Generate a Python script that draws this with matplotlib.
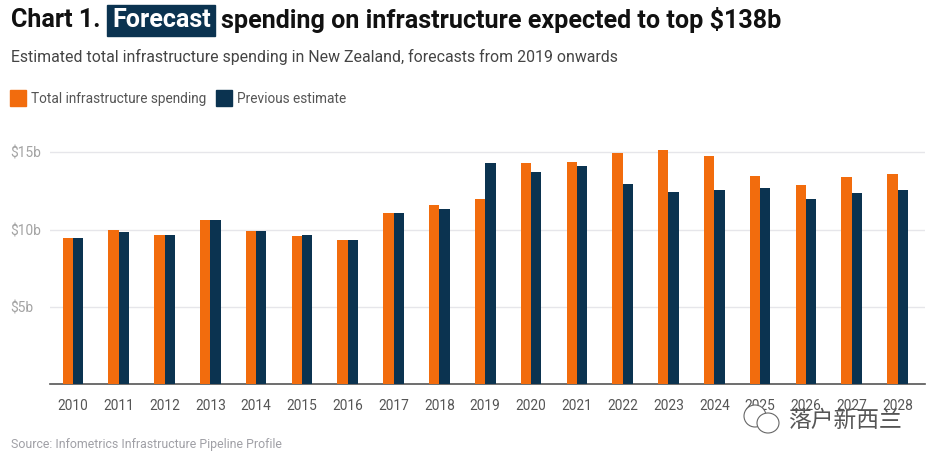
# plot.py
import matplotlib
matplotlib.use("Agg")
import matplotlib.pyplot as plt
from matplotlib.patches import Rectangle, Ellipse
import numpy as np

# ------------------------------------------------------------------
# 1. Data
# ------------------------------------------------------------------
years = [str(y) for y in range(2010, 2029)]
total_spending = [9.45, 9.95, 9.65, 10.65, 9.9, 9.6, 9.35, 11.1, 11.6, 11.98,
                  14.3, 14.35, 14.94, 15.15, 14.79, 13.47, 12.87, 13.38, 13.6]
previous_estimate = [9.45, 9.85, 9.65, 10.65, 9.9, 9.65, 9.35, 11.1, 11.33, 14.3,
                     13.75, 14.14, 12.93, 12.41, 12.56, 12.71, 11.98, 12.35, 12.56]
y_ticks = [5, 10, 15]
y_labels = ["$5b", "$10b", "$15b"]

ORANGE = "#f26c0d"
NAVY = "#0b3350"
W, H = 932, 461

plt.rcParams["font.family"] = ["Roboto", "DejaVu Sans"]

fig = plt.figure(figsize=(W / 100, H / 100), dpi=100, facecolor="white")


def fx(px):
    return px / W


def fy(py):
    return 1 - py / H


# ------------------------------------------------------------------
# 2. Bars
# ------------------------------------------------------------------
ax = fig.add_axes([fx(50), fy(384), (925 - 50) / W, 15.5 * 15.44 / H])
x = np.arange(len(years))
bw = 0.225
ax.bar(x - bw / 2, total_spending, bw, color=ORANGE, zorder=3)
ax.bar(x + bw / 2, previous_estimate, bw, color=NAVY, zorder=3)

ax.set_xlim(-0.5, 18.6)
ax.set_ylim(0, 15.5)
ax.set_xticks(x, years)
ax.set_yticks(y_ticks, y_labels)
ax.grid(axis="y", color="#e6e6ea", linewidth=1, zorder=0)
ax.tick_params(axis="x", length=0, pad=11, labelsize=9.9, labelcolor="#555555")
ax.tick_params(axis="y", length=0, pad=28.5, labelsize=9.9, labelcolor="#a3a3a3")
for lab in ax.get_yticklabels():
    lab.set_horizontalalignment("left")
for side in ["top", "right", "left"]:
    ax.spines[side].set_visible(False)
ax.spines["bottom"].set_color("#555555")
ax.spines["bottom"].set_linewidth(1.2)

# ------------------------------------------------------------------
# 3. Title, subtitle, legend, source
# ------------------------------------------------------------------
fig.patches.append(Rectangle((fx(107), fy(36)), 108 / W, 31 / H, color=NAVY,
                             transform=fig.transFigure))
fig.text(fx(11), fy(20), "Chart 1.", fontsize=18.07, fontweight="bold",
         color="#111111", va="center")
fig.text(fx(112.5), fy(20), "Forecast", fontsize=18.07, fontweight="bold",
         color="white", va="center")
fig.text(fx(221), fy(20), "spending on infrastructure expected to top $138b",
         fontsize=18.07, fontweight="bold", color="#111111", va="center")
fig.text(fx(11), fy(57), "Estimated total infrastructure spending in New Zealand, "
         "forecasts from 2019 onwards", fontsize=11.42, color="#444444", va="center")

fig.patches.append(Rectangle((fx(10), fy(106)), 16 / W, 16 / H, color=ORANGE,
                             transform=fig.transFigure))
fig.text(fx(31), fy(99), "Total infrastructure spending", fontsize=9.85,
         color="#555555", va="center")
fig.patches.append(Rectangle((fx(216), fy(106)), 16 / W, 16 / H, color=NAVY,
                             transform=fig.transFigure))
fig.text(fx(237), fy(99), "Previous estimate", fontsize=9.85,
         color="#555555", va="center")

fig.text(fx(11), fy(444), "Source: Infometrics Infrastructure Pipeline Profile",
         fontsize=8.93, color="#a0a0a6", va="center")

# ------------------------------------------------------------------
# 4. Watermark
# ------------------------------------------------------------------
for cx, cy, ew, eh in [(755, 416, 22, 22), (768, 423, 22, 20)]:
    fig.patches.append(Ellipse((fx(cx), fy(cy)), ew / W, eh / H, facecolor="white",
                               edgecolor="#666666", linewidth=0.8,
                               transform=fig.transFigure, zorder=5))
fig.text(fx(788), fy(420), "落户新西兰", fontsize=16.4, color="#555555", va="center",
         family=["Noto Sans CJK SC", "DejaVu Sans"], zorder=6)

fig.savefig("out.png", dpi=100)
